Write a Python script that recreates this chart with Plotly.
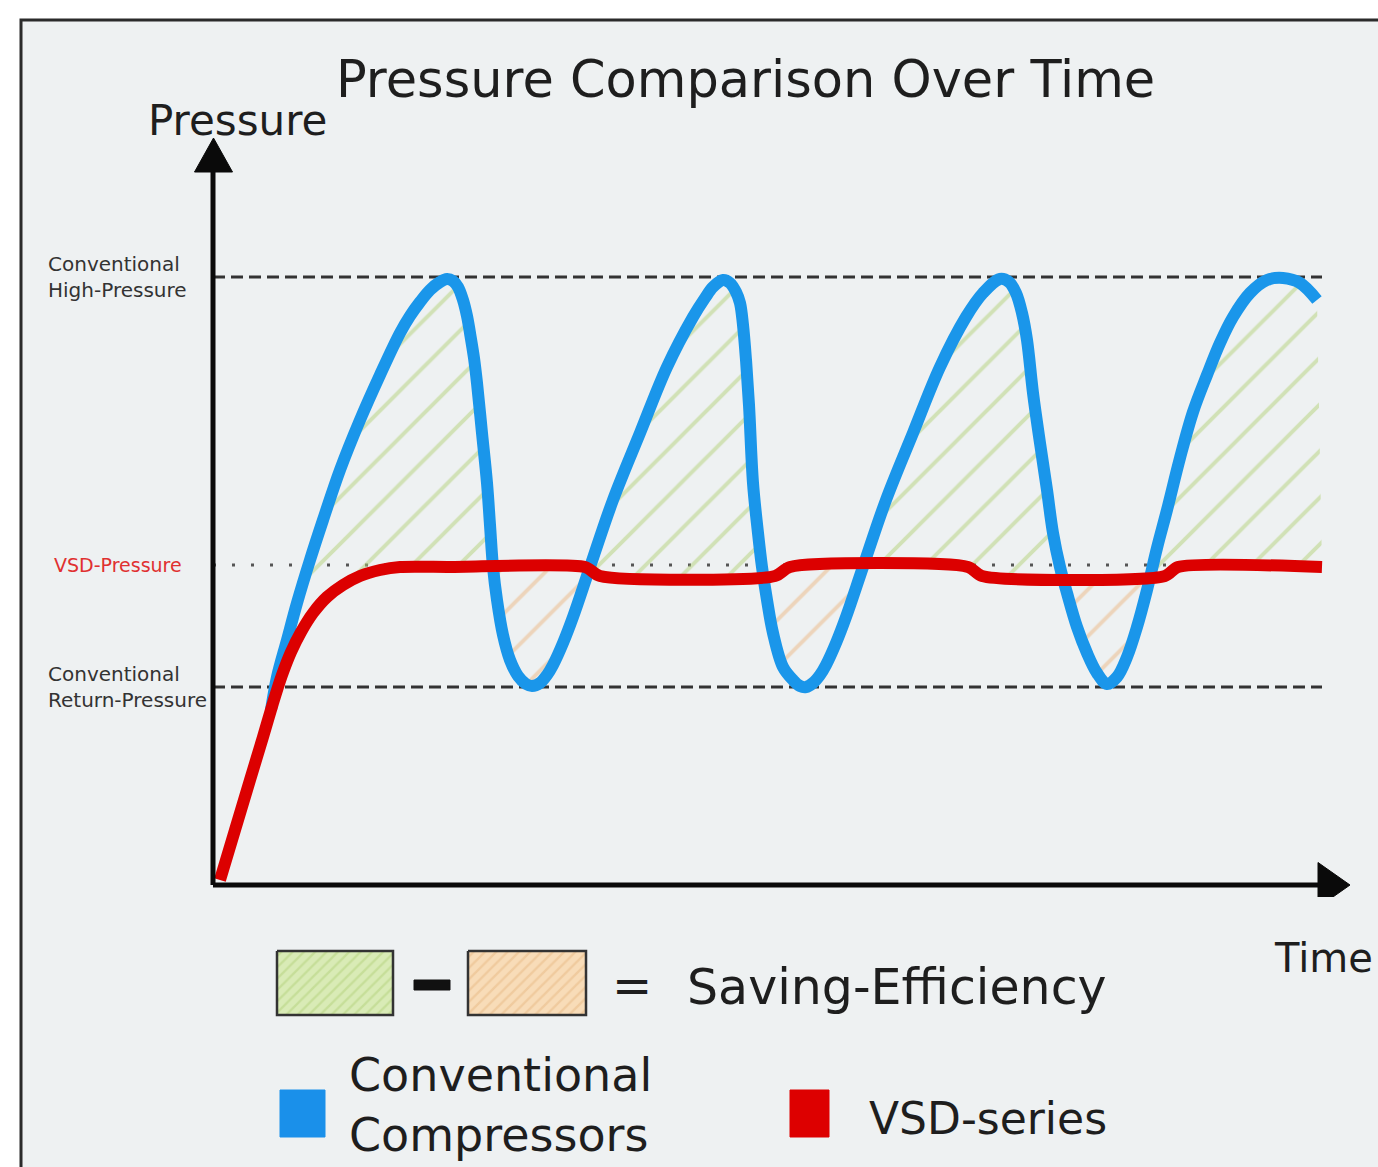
import numpy as np
import plotly.graph_objects as go

# ---------------- data (time units, pressure units) ----------------
conv_time = [5.8, 6.4, 7.4, 8.4, 9.7, 11.0, 12.7, 14.7, 16.7, 18.7, 19.7, 20.7, 21.7, 22.7, 23.4,
             24.0, 24.5, 25.0, 25.4, 25.7, 26.1, 26.4, 26.9, 27.4, 27.7, 28.0, 28.4, 29.0, 29.7,
             30.5, 31.3, 31.9, 32.7, 33.4, 34.0, 35.0, 36.0, 37.7, 40.0, 42.7, 45.4, 48.0, 49.2,
             50.0, 51.0, 51.7, 52.3, 52.7, 53.0, 53.3, 53.6, 54.0, 54.5, 54.9, 55.4, 56.0, 57.0, 58.0,
             58.7, 59.3, 60.0, 60.7, 61.3, 62.3, 63.3, 65.0, 67.3, 70.0, 72.7, 75.3, 77.0, 78.7,
             79.6, 80.3, 80.9, 81.4, 82.0, 82.7, 83.4, 84.0, 84.7, 85.4, 86.4, 87.4, 88.4, 89.4, 90.4,
             91.4, 92.4, 93.4, 94.4, 95.4, 96.7, 98.0, 99.4, 100.7, 102.0, 103.7, 105.4, 107.0,
             108.7, 110.4]
conv_pressure = [17.5, 20.8, 24.5, 28.2, 32.5, 36.5, 41.5, 46.5, 51.0, 55.2, 56.9, 58.3, 59.5, 60.3, 60.6,
                 60.4, 59.8, 58.5, 56.9, 55.2, 52.7, 50.2, 45.2, 40.2, 36.0, 31.8, 28.5, 25.0, 22.5,
                 20.9, 20.1, 19.9, 20.2, 21.0, 22.0, 24.2, 26.8, 31.8, 38.5, 45.2, 51.8, 56.8, 58.7,
                 59.8, 60.5, 60.2, 59.3, 58.2, 56.0, 52.5, 48.0, 40.2, 35.2, 31.8, 28.5, 25.2, 21.8, 20.5,
                 19.9, 19.8, 20.2, 21.0, 22.0, 24.2, 26.8, 31.8, 38.5, 45.2, 51.8, 56.8, 59.2, 60.6,
                 60.3, 59.2, 57.2, 54.5, 49.2, 44.2, 39.5, 35.2, 31.8, 29.2, 25.8, 23.2, 21.2, 20.1, 20.8,
                 22.8, 25.8, 29.5, 33.7, 37.5, 42.7, 47.3, 51.0, 54.2, 56.8, 59.2, 60.5, 60.7,
                 60.2, 58.5]

vsd_time = [0.7, 2.2, 3.7, 5.0, 6.0, 6.9, 7.8, 8.8, 10.0, 11.4, 13.0, 14.7, 16.7, 18.7, 23.7, 37.2, 38.7,
            56.2, 57.7, 75.5, 76.9, 95.2, 96.5, 110.9]
vsd_pressure = [0.5, 5.5, 10.5, 14.8, 18.2, 21.0, 23.3, 25.3, 27.2, 28.8, 30.0, 30.9, 31.5, 31.8, 31.8, 31.8, 30.9,
                30.9, 31.8, 31.8, 30.9, 30.9, 31.8, 31.8]

level_labels = ["Conventional<br>High-Pressure", "VSD-Pressure", "Conventional<br>Return-Pressure"]
level_values = [60.8, 32.0, 19.8]
time_end = 110.9

title_text = "Pressure Comparison Over Time"
y_title = "Pressure"
x_title = "Time"
legend_saving = "Saving-Efficiency"
legend_conv = "Conventional<br>Compressors"
legend_vsd = "VSD-series"

# ---------------- styling ----------------
W, H = 1378, 1167
FONT = "DejaVu Sans"
BLUE = "#1a96ea"
RED = "#dc0000"
GREEN_HATCH = "#b3d27a"
ORANGE_HATCH = "#ebb884"
BG = "#eef1f2"
TXT = "#1e1e1e"


def pxx(x):
    return x / W


def pxy(y):
    return 1 - y / H


fig = go.Figure()

bt = np.array(conv_time)
bp = np.array(conv_pressure)
rt = np.array(vsd_time)
rp = np.array(vsd_pressure)
r_at_b = np.interp(bt, rt, rp)
upper = np.maximum(bp, r_at_b)
lower = np.where(bt > 20, np.minimum(bp, r_at_b), r_at_b)

# reference level lines
for name, val in zip(level_labels, level_values):
    is_vsd = "VSD" in name
    fig.add_trace(go.Scatter(x=[0, time_end], y=[val, val], mode="lines",
                             line=dict(color="#555555" if is_vsd else "#333333", width=3,
                                       dash="3px,16px" if is_vsd else "12px,6px"),
                             hoverinfo="skip", showlegend=False))

# hatched areas
for yy, col in ((upper, GREEN_HATCH), (lower, ORANGE_HATCH)):
    fig.add_trace(go.Scatter(x=rt, y=rp, mode="lines", line=dict(width=0),
                             hoverinfo="skip", showlegend=False))
    fig.add_trace(go.Scatter(x=bt, y=yy, mode="lines", line=dict(width=0), fill="tonexty",
                             fillcolor="rgba(0,0,0,0)",
                             fillpattern=dict(shape="/", size=33, solidity=0.12,
                                              fgcolor=col, bgcolor="rgba(0,0,0,0)"),
                             hoverinfo="skip", showlegend=False))

# curves
fig.add_trace(go.Scatter(x=conv_time, y=conv_pressure, mode="lines",
                         line=dict(color=BLUE, width=12, shape="spline", smoothing=1.0),
                         hoverinfo="skip", showlegend=False))
fig.add_trace(go.Scatter(x=vsd_time, y=vsd_pressure, mode="lines",
                         line=dict(color=RED, width=12, shape="spline", smoothing=0.7),
                         hoverinfo="skip", showlegend=False))


# ---------------- overlay (pixel) axes for the legend graphics ----------------
def box(x0, y0, x1, y1):
    return [x0, x1, x1, x0, x0], [y0, y0, y1, y1, y0]


def add_box(coords, fill, line_col, line_w, pattern=None):
    xs, ys = box(*coords)
    kw = {}
    if pattern:
        kw["fillpattern"] = pattern
    fig.add_trace(go.Scatter(x=xs, y=ys, xaxis="x2", yaxis="y2", mode="lines", fill="toself",
                             fillcolor=fill, line=dict(color=line_col, width=line_w),
                             hoverinfo="skip", showlegend=False, **kw))


add_box((277, 951, 393, 1015), "#d9ebb6", "#333333", 2.5,
        dict(shape="/", size=8, solidity=0.3, fgcolor="#b3d27c", bgcolor="#d9ebb6"))
add_box((468, 951, 586, 1015), "#f8dcb8", "#333333", 2.5,
        dict(shape="/", size=8, solidity=0.3, fgcolor="#e8b984", bgcolor="#f8dcb8"))
add_box((414, 980, 450, 990), "#111111", "#111111", 1)
add_box((280, 1090, 325, 1137), "#1a90ea", "#1a90ea", 1)
add_box((790, 1090, 829, 1137), "#dd0000", "#dd0000", 1)

# ---------------- shapes: background, frame, axes ----------------
shapes = [
    dict(type="rect", xref="paper", yref="paper", x0=pxx(21), x1=1.02, y0=-0.02, y1=pxy(20),
         fillcolor=BG, line=dict(width=0), layer="below"),
    dict(type="rect", xref="paper", yref="paper", x0=pxx(21), x1=1.02, y0=-0.02, y1=pxy(20),
         fillcolor="rgba(0,0,0,0)", line=dict(color="#2b2b2b", width=3), layer="above"),
    dict(type="line", xref="x", yref="y", x0=0, x1=0, y0=0, y1=71.5,
         line=dict(color="#0a0a0a", width=5), layer="above"),
    dict(type="path", xref="x", yref="y", path="M -1.85,71.3 L 1.95,71.3 L 0.05,74.7 Z",
         fillcolor="#0a0a0a", line=dict(color="#0a0a0a", width=1), layer="above"),
    dict(type="line", xref="x", yref="y", x0=0, x1=111, y0=0, y1=0,
         line=dict(color="#0a0a0a", width=5), layer="above"),
    dict(type="path", xref="x", yref="y", path="M 110.5,2.25 L 110.5,-2.25 L 113.7,0 Z",
         fillcolor="#0a0a0a", line=dict(color="#0a0a0a", width=1), layer="above"),
]

# ---------------- annotations ----------------
ann = [
    dict(text=title_text, x=pxx(745), y=pxy(80), font=dict(size=51, color=TXT)),
    dict(text=y_title, x=pxx(237), y=pxy(120), font=dict(size=42, color=TXT)),
    dict(text=x_title, x=pxx(1323), y=pxy(958), font=dict(size=40, color=TXT)),
    dict(text="=", x=pxx(632), y=pxy(985), font=dict(size=48, color=TXT)),
    dict(text=legend_saving, x=pxx(685), y=pxy(987), xanchor="left", font=dict(size=49, color=TXT)),
    dict(text=legend_conv, x=pxx(347), y=pxy(1105), xanchor="left", align="left",
         font=dict(size=46, color=TXT)),
    dict(text=legend_vsd, x=pxx(867), y=pxy(1118), xanchor="left", font=dict(size=44, color=TXT)),
]
for name, val in zip(level_labels, level_values):
    is_vsd = "VSD" in name
    ann.append(dict(text=name, xref="paper", yref="y", x=pxx(46 if not is_vsd else 52), y=val,
                    xanchor="left", yanchor="middle", align="left",
                    font=dict(size=19 if is_vsd else 20, color="#e03030" if is_vsd else "#333333")))
for a in ann:
    a.setdefault("xref", "paper")
    a.setdefault("yref", "paper")
    a.setdefault("xanchor", "center")
    a.setdefault("yanchor", "middle")
    a["showarrow"] = False

fig.update_layout(
    width=W, height=H,
    margin=dict(l=0, r=0, t=0, b=0),
    paper_bgcolor="white",
    plot_bgcolor="rgba(0,0,0,0)",
    font=dict(family=FONT),
    xaxis=dict(range=[-2, 115], domain=[193 / W, 1363 / W], visible=False, fixedrange=True),
    yaxis=dict(range=[-1.2, 75.4], domain=[(H - 897) / H, (H - 131) / H], visible=False, fixedrange=True),
    xaxis2=dict(range=[0, W], domain=[0, 1], visible=False, anchor="y2", fixedrange=True),
    yaxis2=dict(range=[H, 0], domain=[0, 1], visible=False, anchor="x2", fixedrange=True),
    shapes=shapes,
    annotations=ann,
    showlegend=False,
)

fig.write_html("out.html", config={"displayModeBar": False},
               post_script="document.body.style.margin='0';document.body.style.overflow='hidden';")
